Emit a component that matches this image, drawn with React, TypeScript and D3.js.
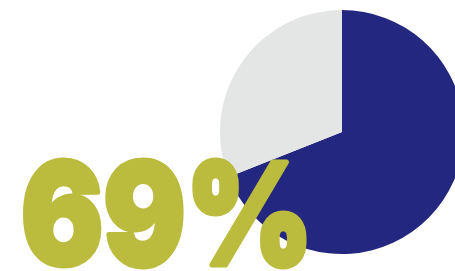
import React from "react";
import * as d3 from "d3";

const categories = ["Yes", "No"];
const values = [69, 31];
const colors = ["#24277f", "#e4e6e5"];
const label = "69%";

export default function App() {
  const W = 455, H = 271;
  const cx = 342, cy = 132, r = 122;
  const pie = d3.pie<number>().sort(null).value((d) => d);
  const arcs = pie(values);
  const arc = d3.arc<d3.PieArcDatum<number>>().innerRadius(0).outerRadius(r);
  return (
    <svg width={W} height={H} style={{ position: "absolute", left: 0, top: 0 }}>
      <g transform={`translate(${cx},${cy})`}>
        {arcs.map((a, i) => (
          <path key={categories[i]} d={arc(a) || ""} fill={colors[i]} />
        ))}
      </g>
      <text
        x={21}
        y={265}
        fontFamily="Inter, Lato, Roboto, sans-serif"
        fontWeight={900}
        fontSize={142}
        fill="#bbbb3e"
        stroke="#bbbb3e"
        strokeWidth={5}
        strokeLinejoin="round"
        textLength={292}
        lengthAdjust="spacingAndGlyphs"
      >
        {label}
      </text>
    </svg>
  );
}
